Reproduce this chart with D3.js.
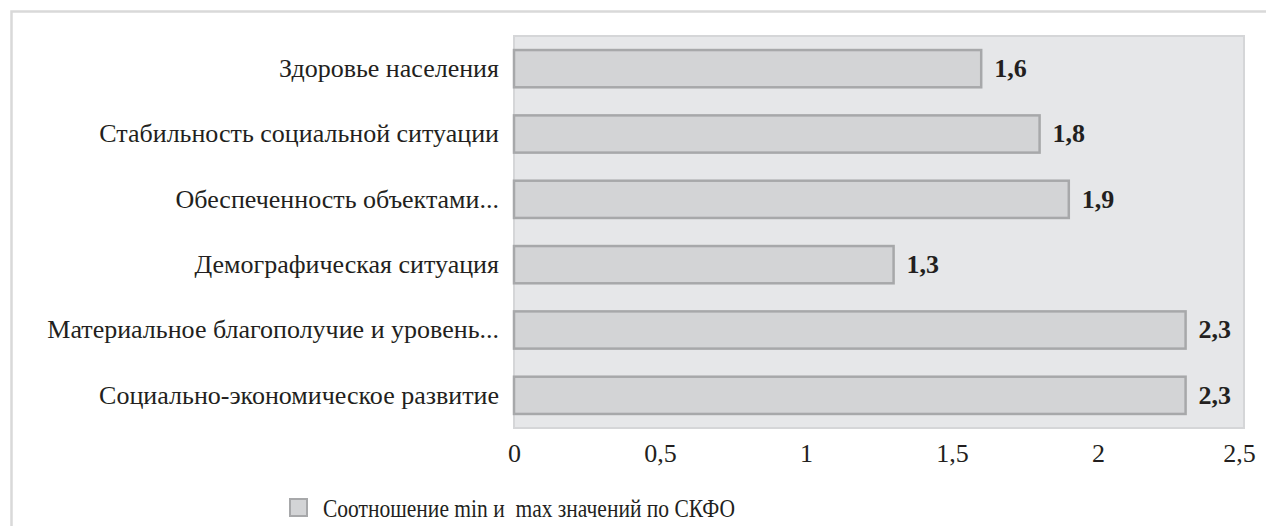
<!DOCTYPE html>
<html>
<head>
<meta charset="utf-8">
<script src="https://cdn.jsdelivr.net/npm/d3@7"></script>
<style>
  html, body { margin: 0; padding: 0; background: #ffffff; }
  svg { display: block; }
</style>
</head>
<body>
<svg id="chart" width="1266" height="526"></svg>
<script>
// Indicator groups, top to bottom
const categories = [
  "Здоровье населения",
  "Стабильность социальной ситуации",
  "Обеспеченность объектами...",
  "Демографическая ситуация",
  "Материальное благополучие и уровень...",
  "Социально-экономическое развитие"
];
// Ratio of min to max values across the district
const values = [1.6, 1.8, 1.9, 1.3, 2.3, 2.3];
const tickValues = [0, 0.5, 1, 1.5, 2, 2.5];
const tickLabels = ["0", "0,5", "1", "1,5", "2", "2,5"];
const legendLabel = "Соотношение min и  max значений по СКФО";

const svg = d3.select("#chart");
const font = "'Liberation Serif', 'Times New Roman', serif";
const fontSize = 26;

// Outer frame (top and left edges visible)
svg.append("path")
  .attr("d", "M11.5,1000 V11.5 H1300")
  .attr("fill", "none")
  .attr("stroke", "#d9d9d9")
  .attr("stroke-width", 2.5);

const plot = { left: 514, right: 1244, top: 36, bottom: 428 };

const x = d3.scaleLinear().domain([0, 2.5]).range([plot.left, plot.right]);
const y = d3.scaleBand().domain(categories).range([plot.top, plot.bottom]).paddingInner(0.43).paddingOuter(0.215);

// Plot background
svg.append("rect")
  .attr("x", plot.left).attr("y", plot.top)
  .attr("width", plot.right - plot.left).attr("height", plot.bottom - plot.top)
  .attr("fill", "#e6e7e9")
  .attr("stroke", "#d5d6d8")
  .attr("stroke-width", 2);

// Bars
svg.append("g").selectAll("rect")
  .data(values)
  .join("rect")
  .attr("x", x(0))
  .attr("y", (d, i) => y(categories[i]))
  .attr("width", d => x(d) - x(0))
  .attr("height", y.bandwidth())
  .attr("fill", "#d3d4d6")
  .attr("stroke", "#a7a8aa")
  .attr("stroke-width", 2.5);

// Value labels
svg.append("g").selectAll("text")
  .data(values)
  .join("text")
  .attr("x", d => x(d) + 13)
  .attr("y", (d, i) => y(categories[i]) + y.bandwidth() / 2)
  .attr("dy", "0.32em")
  .attr("font-family", font)
  .attr("font-weight", "bold")
  .attr("font-size", fontSize)
  .attr("fill", "#231f20")
  .text(d => d3.format(".1f")(d).replace(".", ","));

// Category axis labels
const yAxis = d3.axisLeft(y).tickSize(0).tickPadding(15);
const yg = svg.append("g").attr("transform", `translate(${plot.left},0)`).call(yAxis);
yg.select(".domain").remove();
yg.selectAll("text")
  .attr("font-family", font)
  .attr("font-size", fontSize)
  .attr("fill", "#231f20");

// Value axis labels
const xAxis = d3.axisBottom(x).tickValues(tickValues).tickSize(0).tickPadding(16)
  .tickFormat((d, i) => tickLabels[i]);
const xg = svg.append("g").attr("transform", `translate(0,${plot.bottom})`).call(xAxis);
xg.select(".domain").remove();
xg.selectAll("text")
  .attr("font-family", font)
  .attr("font-size", fontSize)
  .attr("fill", "#231f20");
xg.selectAll(".tick").filter(d => d === 2.5).select("text").attr("dx", -5);

// Legend
const legend = svg.append("g").attr("transform", "translate(290,499)");
legend.append("rect")
  .attr("width", 17).attr("height", 17)
  .attr("fill", "#d3d4d6")
  .attr("stroke", "#a7a8aa")
  .attr("stroke-width", 2);
legend.append("text")
  .attr("x", 33).attr("y", 18)
  .attr("font-family", font)
  .attr("font-size", fontSize)
  .attr("fill", "#231f20")
  .attr("textLength", 412)
  .attr("lengthAdjust", "spacingAndGlyphs")
  .style("white-space", "pre")
  .text(legendLabel);
</script>
</body>
</html>
